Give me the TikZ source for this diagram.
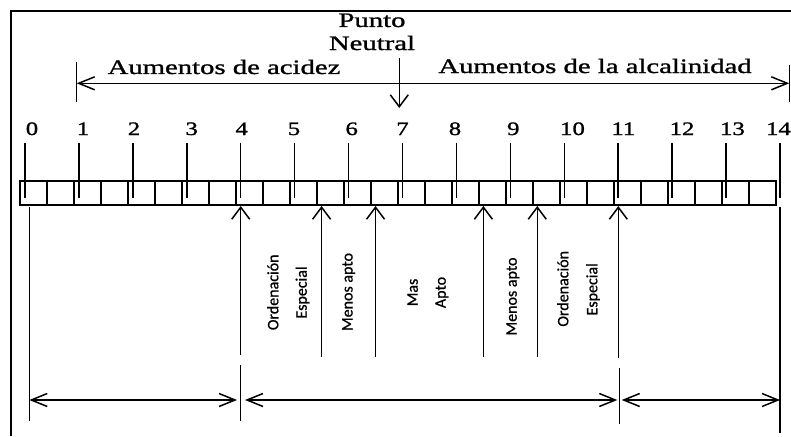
\documentclass[tikz,border=0pt]{standalone}
\usepackage{fontspec}
\usetikzlibrary{arrows.meta}
\newfontfamily\serifL[FakeStretch=1.4,FakeBold=1.2]{Liberation Serif}
\newfontfamily\serifD[FakeStretch=1.3,FakeBold=1.2]{Liberation Serif}
\newfontfamily\sansC[FakeBold=0.8]{Carlito}
\tikzset{
  frameline/.style={line width=1.8pt},
  rule/.style={line width=1.5pt},
  cellline/.style={line width=1.3pt},
  harrow/.style={rule, {Straight Barb[length=16pt,width=13pt]}-{Straight Barb[length=16pt,width=13pt]}},
  vtip/.style={rule, -{Straight Barb[length=12pt,width=18pt]}},
  digit/.style={font=\serifD\fontsize{19}{22}\selectfont, anchor=base, inner sep=0pt},
  biglabel/.style={font=\serifL\fontsize{20.5}{24}\selectfont, anchor=base, inner sep=0pt},
  vlabel/.style={font=\sansC\fontsize{16}{19}\selectfont, rotate=90, anchor=base, inner sep=0pt}
}
\begin{document}
\begin{tikzpicture}[x=1pt,y=-1pt]
\useasboundingbox (0,0) rectangle (791,436);
\fill[white] (0,0) rectangle (791,436);
% frame
\draw[frameline] (11,436) -- (11,10.7) -- (791,10.7);
% top labels
\node[biglabel] (punto) at (372,27) {Punto};
\node[biglabel] (neutral) at (372,50) {Neutral};
\node[biglabel] (acid) at (224,74) {Aumentos de acidez};
\node[biglabel] (alk) at (595,73) {Aumentos de la alcalinidad};
% top dimension arrow
\coordinate (accL) at (76.7,83.3);
\coordinate (alkR) at (789.3,83.3);
\draw[harrow] (accL) -- (alkR);
\draw[rule] (76.7,62) -- (76.7,102);
\draw[rule] (789.3,65) -- (789.3,102);
% neutral point arrow
\coordinate (pnTop) at (399.3,58);
\coordinate (pnTip) at (399.3,108);
\draw[vtip] (pnTop) -- (pnTip);
% digits
\foreach \d/\x in {0/32,1/83,2/134,3/191.7,4/241.7,5/294,6/351.7,7/402.5,8/455,9/513.3,10/572.5,11/623.3,12/682,13/732.5,14/778.5}
  \node[digit] (d\d) at (\x,135) {\d};
% strip
\draw[cellline] (20,181) rectangle (776,205);
\foreach \k in {1,...,27}
  \draw[cellline] ({20+27*\k},181) -- ({20+27*\k},205);
% ticks
\foreach \n in {0,...,14}
  \draw[rule] ({25+53.93*\n},143) -- ({25+53.93*\n},198);
% long verticals
\draw[rule] (29.3,207) -- (29.3,421);
\draw[rule] (780,207) -- (780,433);
% upward arrows
\foreach \x/\b in {240.7/355,321.6/356.7,375.5/356.7,483.4/356.7,537.3/356.7,618.3/358}
  \draw[vtip] (\x,\b) -- (\x,206);
% bars of lower dimension
\draw[rule] (240.7,365) -- (240.7,421);
\draw[rule] (619.5,368) -- (619.5,424);
% lower dimension arrows
\draw[harrow] (29.3,400) -- (237,400);
\draw[harrow] (245,400) -- (617.3,400);
\draw[harrow] (621.7,400) -- (780,400);
% vertical labels
\node[vlabel] (ord1) at (278.3,292.3) {Ordenación};
\node[vlabel] (esp1) at (306.7,292.5) {Especial};
\node[vlabel] (men1) at (352.5,292) {Menos apto};
\node[vlabel] (mas) at (417.7,292.5) {Mas};
\node[vlabel] (apto) at (445.7,292.5) {Apto};
\node[vlabel] (men2) at (516.7,296.5) {Menos apto};
\node[vlabel] (ord2) at (568.3,288.8) {Ordenación};
\node[vlabel] (esp2) at (597.3,289.3) {Especial};
\end{tikzpicture}
\end{document}
